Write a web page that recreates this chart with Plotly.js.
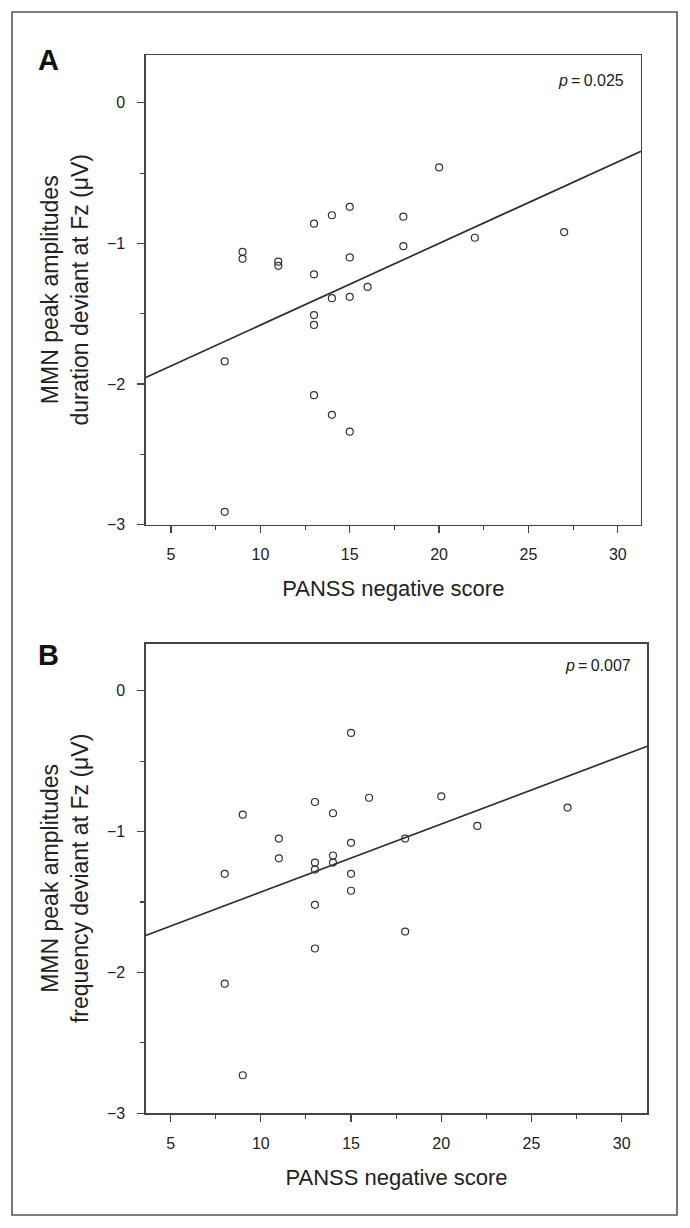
<!DOCTYPE html>
<html>
<head>
<meta charset="utf-8">
<script src="https://cdn.plot.ly/plotly-3.0.1.min.js"></script>
<style>
  html, body { margin: 0; padding: 0; background: #ffffff; }
  #chart { width: 690px; height: 1228px; }
</style>
</head>
<body>
<div id="chart"></div>
<script>
// PANSS negative score (x) shared by both panels
const panssA = [8, 8, 9, 9, 11, 11, 13, 13, 13, 13, 13, 14, 14, 14, 15, 15, 15, 15, 16, 18, 18, 20, 22, 27];
// Panel A: MMN peak amplitudes, duration deviant at Fz (µV)
const durationMMN = [-2.91, -1.84, -1.06, -1.11, -1.13, -1.16, -0.86, -1.22, -1.51, -1.58, -2.08, -0.80, -1.39, -2.22, -0.74, -1.10, -1.38, -2.34, -1.31, -0.81, -1.02, -0.46, -0.96, -0.92];

const panssB = [8, 8, 9, 9, 11, 11, 13, 13, 13, 13, 13, 14, 14, 14, 15, 15, 15, 15, 16, 18, 18, 20, 22, 27];
// Panel B: MMN peak amplitudes, frequency deviant at Fz (µV)
const frequencyMMN = [-1.30, -2.08, -0.88, -2.73, -1.05, -1.19, -0.79, -1.22, -1.27, -1.52, -1.83, -0.87, -1.17, -1.22, -0.30, -1.08, -1.30, -1.42, -0.76, -1.05, -1.71, -0.75, -0.96, -0.83];

const pLabels = ["0.025", "0.007"];
const panelLetters = ["A", "B"];
const yTitles = ["MMN peak amplitudes<br>duration deviant at Fz (μV)", "MMN peak amplitudes<br>frequency deviant at Fz (μV)"];
const xTitle = "PANSS negative score";
const xTickVals = [5, 10, 15, 20, 25, 30];
const yTickVals = [0, -1, -2, -3];

function fit(xs, ys) {
  const n = xs.length;
  const mx = xs.reduce((a, b) => a + b, 0) / n;
  const my = ys.reduce((a, b) => a + b, 0) / n;
  let sxy = 0, sxx = 0;
  for (let i = 0; i < n; i++) { sxy += (xs[i] - mx) * (ys[i] - my); sxx += (xs[i] - mx) ** 2; }
  const b = sxy / sxx;
  return { b: b, a: my - b * mx };
}

const W = 690, H = 1228;
const FONT = "Liberation Sans, Arial, Helvetica, sans-serif";
const INK = "#222222";
const FRAME = "#444444";

const xRangeA = [3.58, 31.3];
const xRangeB = [3.62, 31.42];
const yRangeA = [-3, 0.34];
const yRangeB = [-3, 0.335];

const fA = fit(panssA, durationMMN);
const fB = fit(panssB, frequencyMMN);

const marker = { symbol: "circle-open", size: 7, color: "#333333", line: { width: 1.2, color: "#333333" } };
const lineStyle = { color: "#2e2e2e", width: 1.7 };

const traces = [
  { x: xRangeA, y: xRangeA.map(v => fA.a + fA.b * v), mode: "lines", line: lineStyle, xaxis: "x", yaxis: "y", hoverinfo: "skip", cliponaxis: true },
  { x: panssA, y: durationMMN, mode: "markers", marker: marker, xaxis: "x", yaxis: "y" },
  { x: xRangeB, y: xRangeB.map(v => fB.a + fB.b * v), mode: "lines", line: lineStyle, xaxis: "x2", yaxis: "y2", hoverinfo: "skip", cliponaxis: true },
  { x: panssB, y: frequencyMMN, mode: "markers", marker: marker, xaxis: "x2", yaxis: "y2" }
];

function xAxis(domain, range, anchor) {
  return {
    domain: domain, range: range, anchor: anchor,
    tickmode: "array", tickvals: xTickVals,
    ticks: "outside", ticklen: 7, tickwidth: 1.3, tickcolor: FRAME,
    minor: { tickmode: "linear", tick0: 0, dtick: 2.5, ticks: "outside", ticklen: 4, tickwidth: 1.1, tickcolor: FRAME, showgrid: false },
    ticklabelstandoff: 8,
    showline: true, mirror: true, linecolor: FRAME, linewidth: 1.3,
    showgrid: false, zeroline: false,
    tickfont: { family: FONT, size: 16, color: INK },
    title: { text: xTitle, font: { family: FONT, size: 22, color: INK }, standoff: 18 }
  };
}
function yAxis(domain, range, anchor, title) {
  return {
    domain: domain, range: range, anchor: anchor,
    tickmode: "array", tickvals: yTickVals,
    ticks: "outside", ticklen: 7, tickwidth: 1.3, tickcolor: FRAME,
    minor: { tickmode: "linear", tick0: 0, dtick: 0.5, ticks: "outside", ticklen: 4, tickwidth: 1.1, tickcolor: FRAME, showgrid: false },
    ticklabelstandoff: 9,
    showline: true, mirror: true, linecolor: FRAME, linewidth: 1.3,
    showgrid: false, zeroline: false,
    tickfont: { family: FONT, size: 16, color: INK },
    title: { text: title, font: { family: FONT, size: 23, color: INK }, standoff: 12 }
  };
}

const layout = {
  width: W, height: H,
  margin: { l: 0, r: 0, t: 0, b: 0 },
  paper_bgcolor: "#ffffff", plot_bgcolor: "#ffffff",
  showlegend: false,
  xaxis: xAxis([145.7 / W, 641 / W], xRangeA, "y"),
  yaxis: yAxis([1 - 524.5 / H, 1 - 55 / H], yRangeA, "x", yTitles[0]),
  xaxis2: xAxis([145.7 / W, 647.3 / W], xRangeB, "y2"),
  yaxis2: yAxis([1 - 1113.3 / H, 1 - 643.5 / H], yRangeB, "x2", yTitles[1]),
  shapes: [
    { type: "rect", xref: "paper", yref: "paper", x0: 12 / W, x1: 677 / W, y0: 1 - 1215 / H, y1: 1 - 12 / H,
      line: { color: "#555555", width: 1.6 }, fillcolor: "rgba(0,0,0,0)", layer: "below" }
  ],
  annotations: [
    { xref: "paper", yref: "paper", x: 36 / W, y: 1 - 60 / H, xanchor: "left", yanchor: "middle", showarrow: false,
      text: "<b>" + panelLetters[0] + "</b>", font: { family: FONT, size: 29, color: "#111111" } },
    { xref: "paper", yref: "paper", x: 36 / W, y: 1 - 655 / H, xanchor: "left", yanchor: "middle", showarrow: false,
      text: "<b>" + panelLetters[1] + "</b>", font: { family: FONT, size: 29, color: "#111111" } },
    { xref: "x domain", yref: "y domain", x: 0.97, y: 1 - 25 / 469.5, xanchor: "right", yanchor: "middle", showarrow: false,
      text: "<i>p</i>\u2009=\u2009" + pLabels[0], font: { family: FONT, size: 16, color: INK } },
    { xref: "x2 domain", yref: "y2 domain", x: 0.972, y: 1 - 21.5 / 469.8, xanchor: "right", yanchor: "middle", showarrow: false,
      text: "<i>p</i>\u2009=\u2009" + pLabels[1], font: { family: FONT, size: 16, color: INK } }
  ]
};

Plotly.newPlot("chart", traces, layout, { staticPlot: true, displayModeBar: false });
</script>
</body>
</html>
